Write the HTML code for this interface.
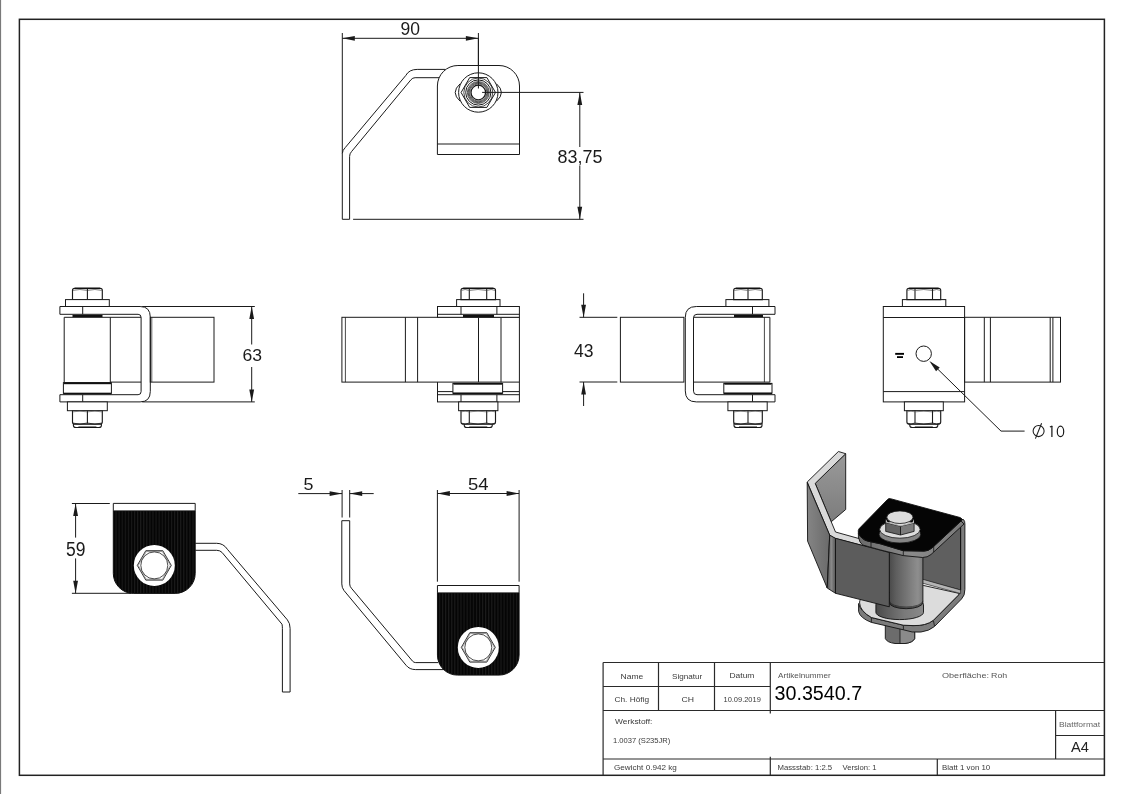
<!DOCTYPE html>
<html><head><meta charset="utf-8"><title>Drawing</title>
<style>html,body{margin:0;padding:0;background:#fff;overflow:hidden}svg{display:block;filter:grayscale(1)}</style>
</head><body>
<svg width="1123" height="794" viewBox="0 0 1123 794" shape-rendering="geometricPrecision">
<defs>
<pattern id="knurl" patternUnits="userSpaceOnUse" width="3.08" height="10" x="0" y="0">
<rect width="3.08" height="10" fill="#050505"/><rect x="1.6" width="1.0" height="10" fill="#1c1c1c"/>
</pattern>
<linearGradient id="cylg" x1="0" x2="1" y1="0" y2="0">
<stop offset="0" stop-color="#4a4a4a"/><stop offset="0.2" stop-color="#5e5e5e"/><stop offset="0.85" stop-color="#8e8e8e"/><stop offset="1" stop-color="#7a7a7a"/>
</linearGradient>
<linearGradient id="ringg" x1="0" x2="1" y1="0" y2="0">
<stop offset="0" stop-color="#4a4a4a"/><stop offset="0.6" stop-color="#7a7a7a"/><stop offset="1" stop-color="#8a8a8a"/>
</linearGradient>
<linearGradient id="leafg" x1="0" x2="0" y1="0" y2="1">
<stop offset="0" stop-color="#9a9a9a"/><stop offset="1" stop-color="#7c7c7c"/>
</linearGradient>
<linearGradient id="slantg" x1="0" x2="1" y1="0" y2="0">
<stop offset="0" stop-color="#858585"/><stop offset="1" stop-color="#6a6a6a"/>
</linearGradient>
<linearGradient id="bendg" x1="0" x2="1" y1="0" y2="0">
<stop offset="0" stop-color="#4e4e4e"/><stop offset="0.5" stop-color="#8a8a8a"/><stop offset="1" stop-color="#555"/>
</linearGradient>
<linearGradient id="bandg" x1="0" x2="1" y1="0" y2="0">
<stop offset="0" stop-color="#6a6a6a"/><stop offset="0.5" stop-color="#8a8a8a"/><stop offset="1" stop-color="#7a7a7a"/>
</linearGradient>
</defs>
<rect width="1123" height="794" fill="#fff"/>
<line x1="0.50" y1="0.00" x2="0.50" y2="794.00" stroke="#7a7a7a" stroke-width="1.2"/>
<rect x="19.40" y="19.30" width="1085.00" height="756.00" rx="0" fill="none" stroke="#222" stroke-width="1.5"/>
<line x1="603.10" y1="662.50" x2="1104.40" y2="662.50" stroke="#2a2a2a" stroke-width="1.2"/>
<line x1="603.10" y1="686.50" x2="770.30" y2="686.50" stroke="#2a2a2a" stroke-width="1.2"/>
<line x1="603.10" y1="710.50" x2="1104.40" y2="710.50" stroke="#2a2a2a" stroke-width="1.2"/>
<line x1="1055.60" y1="735.50" x2="1104.40" y2="735.50" stroke="#2a2a2a" stroke-width="1.2"/>
<line x1="603.10" y1="759.00" x2="1104.40" y2="759.00" stroke="#2a2a2a" stroke-width="1.2"/>
<line x1="603.10" y1="662.50" x2="603.10" y2="775.00" stroke="#2a2a2a" stroke-width="1.2"/>
<line x1="658.50" y1="662.50" x2="658.50" y2="710.50" stroke="#2a2a2a" stroke-width="1.2"/>
<line x1="714.50" y1="662.50" x2="714.50" y2="710.50" stroke="#2a2a2a" stroke-width="1.2"/>
<line x1="770.30" y1="662.50" x2="770.30" y2="713.40" stroke="#2a2a2a" stroke-width="1.2"/>
<line x1="770.30" y1="756.70" x2="770.30" y2="775.00" stroke="#2a2a2a" stroke-width="1.2"/>
<line x1="937.30" y1="759.10" x2="937.30" y2="775.00" stroke="#2a2a2a" stroke-width="1.2"/>
<line x1="1055.60" y1="710.50" x2="1055.60" y2="759.10" stroke="#2a2a2a" stroke-width="1.2"/>
<line x1="342.30" y1="33.00" x2="342.30" y2="153.60" stroke="#1a1a1a" stroke-width="1"/>
<line x1="478.40" y1="33.00" x2="478.40" y2="88.50" stroke="#1a1a1a" stroke-width="1"/>
<line x1="342.30" y1="38.30" x2="478.40" y2="38.30" stroke="#1a1a1a" stroke-width="1"/>
<polygon points="342.30,38.30 354.80,40.70 354.80,35.90" fill="#1a1a1a" stroke="none"/>
<polygon points="478.40,38.30 465.90,35.90 465.90,40.70" fill="#1a1a1a" stroke="none"/>
<path d="M445.5,69.4 L417.2,69.4 Q409,69.4 405.7,75.6 L345.4,147.4 Q342.3,150.5 342.3,153.6 L342.3,219.3 L349.6,219.3 L349.6,156.5 Q349.6,153.5 351.6,151.5 L410.9,79.8 Q412.6,77.7 415.1,77.7 L439.2,77.7" fill="none" stroke="#1a1a1a" stroke-width="1" />
<path d="M437.4,154.5 L437.4,86 A20.5,20.5 0 0 1 457.9,65.5 L499.0,65.5 A20.5,20.5 0 0 1 519.5,86 L519.5,154.5 Z" fill="#fff" stroke="#1a1a1a" stroke-width="1" />
<line x1="437.40" y1="144.00" x2="519.50" y2="144.00" stroke="#1a1a1a" stroke-width="1"/>
<circle cx="478.30" cy="92.50" r="19.70" fill="#fff" stroke="#1a1a1a" stroke-width="1"/>
<path d="M460.1,83.8 Q450.3,92.5 460.1,101.2" fill="none" stroke="#1a1a1a" stroke-width="1" />
<path d="M496.5,83.8 Q506.3,92.5 496.5,101.2" fill="none" stroke="#1a1a1a" stroke-width="1" />
<polygon points="495.50,92.50 486.90,107.40 469.70,107.40 461.10,92.50 469.70,77.60 486.90,77.60" fill="#fff" stroke="#1a1a1a" stroke-width="1" stroke-linejoin="round"/>
<circle cx="478.30" cy="92.50" r="14.50" fill="none" stroke="#1a1a1a" stroke-width="0.8"/>
<circle cx="478.30" cy="92.50" r="12.60" fill="none" stroke="#1a1a1a" stroke-width="1.0"/>
<circle cx="478.30" cy="92.50" r="11.00" fill="none" stroke="#111" stroke-width="0.65"/>
<circle cx="478.30" cy="92.50" r="10.20" fill="none" stroke="#111" stroke-width="0.65"/>
<circle cx="478.30" cy="92.50" r="9.40" fill="none" stroke="#111" stroke-width="0.65"/>
<circle cx="478.30" cy="92.50" r="8.60" fill="none" stroke="#111" stroke-width="0.65"/>
<circle cx="478.30" cy="92.50" r="7.30" fill="#fff" stroke="#1a1a1a" stroke-width="1.3"/>
<line x1="478.40" y1="38.30" x2="478.40" y2="88.50" stroke="#1a1a1a" stroke-width="1"/>
<line x1="482.10" y1="92.40" x2="583.50" y2="92.40" stroke="#1a1a1a" stroke-width="1"/>
<line x1="579.80" y1="92.40" x2="579.80" y2="147.00" stroke="#1a1a1a" stroke-width="1"/>
<line x1="579.80" y1="166.00" x2="579.80" y2="219.30" stroke="#1a1a1a" stroke-width="1"/>
<polygon points="579.80,92.40 577.40,104.90 582.20,104.90" fill="#1a1a1a" stroke="none"/>
<polygon points="579.80,219.30 582.20,206.80 577.40,206.80" fill="#1a1a1a" stroke="none"/>
<line x1="353.10" y1="219.30" x2="583.50" y2="219.30" stroke="#1a1a1a" stroke-width="1"/>
<path d="M72.5,299.6 L72.5,290.3 Q72.5,288.3 74.5,288.3 L100.3,288.3 Q102.3,288.3 102.3,290.3 L102.3,299.6 Z" fill="#fff" stroke="#1a1a1a" stroke-width="1.15" />
<line x1="74.70" y1="288.40" x2="100.10" y2="288.40" stroke="#111" stroke-width="1.5"/>
<line x1="87.40" y1="288.80" x2="87.40" y2="299.60" stroke="#1a1a1a" stroke-width="1.1"/>
<path d="M73.0,290.5 Q79.95,288.5 86.9,290.5" fill="none" stroke="#444" stroke-width="0.6" />
<path d="M87.9,290.5 Q94.85,288.5 101.8,290.5" fill="none" stroke="#444" stroke-width="0.6" />
<rect x="65.50" y="299.60" width="43.80" height="6.90" rx="0" fill="#fff" stroke="#1a1a1a" stroke-width="1"/>
<path d="M59.9,306.5 L140.1,306.5 Q150.3,306.5 150.3,317.3 L150.3,391.4 Q150.3,401.9 140.1,401.9 L59.9,401.9 L59.9,394.7" fill="none" stroke="#1a1a1a" stroke-width="1" />
<path d="M59.9,306.5 L59.9,314.3 L138.1,314.3 Q141.1,314.3 141.1,317.5 L141.1,391.6 Q141.1,394.7 138.1,394.7 L59.9,394.7" fill="none" stroke="#1a1a1a" stroke-width="1" />
<line x1="82.70" y1="306.50" x2="82.70" y2="314.30" stroke="#1a1a1a" stroke-width="1"/>
<line x1="82.70" y1="394.70" x2="82.70" y2="401.90" stroke="#1a1a1a" stroke-width="1"/>
<line x1="142.20" y1="306.50" x2="254.80" y2="306.50" stroke="#1a1a1a" stroke-width="1"/>
<line x1="142.20" y1="401.90" x2="254.80" y2="401.90" stroke="#1a1a1a" stroke-width="1"/>
<line x1="64.20" y1="317.30" x2="141.10" y2="317.30" stroke="#1a1a1a" stroke-width="1"/>
<line x1="64.20" y1="317.30" x2="64.20" y2="382.10" stroke="#1a1a1a" stroke-width="1"/>
<line x1="110.30" y1="317.30" x2="110.30" y2="382.10" stroke="#1a1a1a" stroke-width="1"/>
<line x1="110.30" y1="382.10" x2="141.10" y2="382.10" stroke="#1a1a1a" stroke-width="1"/>
<rect x="72.50" y="314.90" width="30.00" height="2.20" rx="0" fill="#111" stroke="none"/>
<rect x="150.30" y="317.30" width="63.70" height="64.80" rx="0" fill="none" stroke="#1a1a1a" stroke-width="1"/>
<line x1="151.80" y1="317.30" x2="151.80" y2="382.10" stroke="#1a1a1a" stroke-width="0.7"/>
<rect x="63.40" y="382.60" width="48.00" height="10.70" rx="0" fill="#fff" stroke="#1a1a1a" stroke-width="1"/>
<rect x="64.00" y="382.40" width="47.00" height="1.80" rx="0" fill="#111" stroke="none"/>
<rect x="63.40" y="392.85" width="48.00" height="1.50" rx="0" fill="#111" stroke="none"/>
<rect x="67.40" y="401.90" width="39.90" height="8.80" rx="0" fill="#fff" stroke="#1a1a1a" stroke-width="1"/>
<path d="M73.4,423.7 L73.4,425.5 Q73.4,427.5 75.9,427.5 L98.9,427.5 Q101.4,427.5 101.4,425.5 L101.4,423.7 Z" fill="#fff" stroke="#1a1a1a" stroke-width="1.1" />
<line x1="78.40" y1="427.20" x2="96.40" y2="427.20" stroke="#111" stroke-width="1.4"/>
<path d="M72.5,410.7 L72.5,422.2 Q72.5,423.7 74.0,424.09999999999997 L100.8,424.09999999999997 Q102.3,423.7 102.3,422.2 L102.3,410.7 Z" fill="#fff" stroke="#1a1a1a" stroke-width="1.15" />
<line x1="87.40" y1="410.70" x2="87.40" y2="423.70" stroke="#1a1a1a" stroke-width="1.1"/>
<path d="M72.8,423.09999999999997 Q79.95,425.09999999999997 87.10000000000001,423.09999999999997" fill="none" stroke="#222" stroke-width="0.9" />
<path d="M72.8,411.9 Q79.95,410.3 87.10000000000001,411.9" fill="none" stroke="#555" stroke-width="0.6" />
<path d="M87.7,423.09999999999997 Q94.85,425.09999999999997 102.0,423.09999999999997" fill="none" stroke="#222" stroke-width="0.9" />
<path d="M87.7,411.9 Q94.85,410.3 102.0,411.9" fill="none" stroke="#555" stroke-width="0.6" />
<line x1="251.70" y1="306.50" x2="251.70" y2="344.50" stroke="#1a1a1a" stroke-width="1"/>
<line x1="251.70" y1="367.00" x2="251.70" y2="401.90" stroke="#1a1a1a" stroke-width="1"/>
<polygon points="251.70,306.50 249.30,319.00 254.10,319.00" fill="#1a1a1a" stroke="none"/>
<polygon points="251.70,401.90 254.10,389.40 249.30,389.40" fill="#1a1a1a" stroke="none"/>
<rect x="341.90" y="317.30" width="177.50" height="64.80" rx="0" fill="none" stroke="#1a1a1a" stroke-width="1"/>
<line x1="345.40" y1="317.30" x2="345.40" y2="382.10" stroke="#1a1a1a" stroke-width="0.8"/>
<line x1="405.40" y1="317.30" x2="405.40" y2="382.10" stroke="#1a1a1a" stroke-width="1"/>
<line x1="417.60" y1="317.30" x2="417.60" y2="382.10" stroke="#1a1a1a" stroke-width="1"/>
<line x1="478.50" y1="317.30" x2="478.50" y2="382.10" stroke="#1a1a1a" stroke-width="1"/>
<line x1="501.00" y1="317.30" x2="501.00" y2="382.10" stroke="#1a1a1a" stroke-width="1"/>
<rect x="437.50" y="306.50" width="81.90" height="10.80" rx="0" fill="#fff" stroke="#1a1a1a" stroke-width="1"/>
<line x1="437.50" y1="314.30" x2="519.40" y2="314.30" stroke="#1a1a1a" stroke-width="1"/>
<line x1="461.00" y1="306.50" x2="461.00" y2="314.30" stroke="#1a1a1a" stroke-width="1"/>
<line x1="496.90" y1="306.50" x2="496.90" y2="314.30" stroke="#1a1a1a" stroke-width="1"/>
<rect x="463.00" y="314.90" width="31.00" height="2.20" rx="0" fill="#111" stroke="none"/>
<rect x="456.60" y="299.60" width="43.40" height="6.90" rx="0" fill="#fff" stroke="#1a1a1a" stroke-width="1"/>
<path d="M461.0,299.6 L461.0,290.3 Q461.0,288.3 463.0,288.3 L493.5,288.3 Q495.5,288.3 495.5,290.3 L495.5,299.6 Z" fill="#fff" stroke="#1a1a1a" stroke-width="1.15" />
<line x1="463.20" y1="288.40" x2="493.30" y2="288.40" stroke="#111" stroke-width="1.5"/>
<line x1="469.30" y1="288.80" x2="469.30" y2="299.60" stroke="#1a1a1a" stroke-width="1.1"/>
<line x1="486.70" y1="288.80" x2="486.70" y2="299.60" stroke="#1a1a1a" stroke-width="1.1"/>
<path d="M461.5,290.5 Q465.15,288.5 468.8,290.5" fill="none" stroke="#444" stroke-width="0.6" />
<path d="M469.8,290.5 Q478.0,288.5 486.2,290.5" fill="none" stroke="#444" stroke-width="0.6" />
<path d="M487.2,290.5 Q491.1,288.5 495.0,290.5" fill="none" stroke="#444" stroke-width="0.6" />
<rect x="437.50" y="391.60" width="81.90" height="10.30" rx="0" fill="#fff" stroke="#1a1a1a" stroke-width="1"/>
<line x1="437.50" y1="394.70" x2="519.40" y2="394.70" stroke="#1a1a1a" stroke-width="1"/>
<line x1="437.50" y1="382.10" x2="437.50" y2="391.60" stroke="#1a1a1a" stroke-width="1"/>
<line x1="519.40" y1="382.10" x2="519.40" y2="391.60" stroke="#1a1a1a" stroke-width="1"/>
<line x1="461.00" y1="394.70" x2="461.00" y2="401.90" stroke="#1a1a1a" stroke-width="1"/>
<line x1="496.90" y1="394.70" x2="496.90" y2="401.90" stroke="#1a1a1a" stroke-width="1"/>
<rect x="452.90" y="383.40" width="49.70" height="9.80" rx="0" fill="#fff" stroke="#1a1a1a" stroke-width="1"/>
<rect x="453.50" y="382.90" width="48.50" height="1.80" rx="0" fill="#111" stroke="none"/>
<rect x="452.90" y="392.65" width="49.70" height="1.50" rx="0" fill="#111" stroke="none"/>
<rect x="458.60" y="401.90" width="39.30" height="8.80" rx="0" fill="#fff" stroke="#1a1a1a" stroke-width="1"/>
<path d="M464.25,423.7 L464.25,425.5 Q464.25,427.5 466.75,427.5 L489.75,427.5 Q492.25,427.5 492.25,425.5 L492.25,423.7 Z" fill="#fff" stroke="#1a1a1a" stroke-width="1.1" />
<line x1="469.25" y1="427.20" x2="487.25" y2="427.20" stroke="#111" stroke-width="1.4"/>
<path d="M461.0,410.7 L461.0,422.2 Q461.0,423.7 462.5,424.09999999999997 L494.0,424.09999999999997 Q495.5,423.7 495.5,422.2 L495.5,410.7 Z" fill="#fff" stroke="#1a1a1a" stroke-width="1.15" />
<line x1="469.30" y1="410.70" x2="469.30" y2="423.70" stroke="#1a1a1a" stroke-width="1.1"/>
<line x1="486.70" y1="410.70" x2="486.70" y2="423.70" stroke="#1a1a1a" stroke-width="1.1"/>
<path d="M461.3,423.09999999999997 Q465.15,425.09999999999997 469.0,423.09999999999997" fill="none" stroke="#222" stroke-width="0.9" />
<path d="M461.3,411.9 Q465.15,410.3 469.0,411.9" fill="none" stroke="#555" stroke-width="0.6" />
<path d="M469.6,423.09999999999997 Q478.0,425.09999999999997 486.4,423.09999999999997" fill="none" stroke="#222" stroke-width="0.9" />
<path d="M469.6,411.9 Q478.0,410.3 486.4,411.9" fill="none" stroke="#555" stroke-width="0.6" />
<path d="M487.0,423.09999999999997 Q491.1,425.09999999999997 495.2,423.09999999999997" fill="none" stroke="#222" stroke-width="0.9" />
<path d="M487.0,411.9 Q491.1,410.3 495.2,411.9" fill="none" stroke="#555" stroke-width="0.6" />
<line x1="579.50" y1="317.30" x2="617.30" y2="317.30" stroke="#1a1a1a" stroke-width="1"/>
<line x1="579.50" y1="382.00" x2="617.30" y2="382.00" stroke="#1a1a1a" stroke-width="1"/>
<line x1="583.60" y1="293.30" x2="583.60" y2="317.30" stroke="#1a1a1a" stroke-width="1"/>
<line x1="583.60" y1="382.00" x2="583.60" y2="406.00" stroke="#1a1a1a" stroke-width="1"/>
<polygon points="583.60,317.30 586.00,304.80 581.20,304.80" fill="#1a1a1a" stroke="none"/>
<polygon points="583.60,382.00 581.20,394.50 586.00,394.50" fill="#1a1a1a" stroke="none"/>
<rect x="620.40" y="317.30" width="63.50" height="64.80" rx="0" fill="none" stroke="#1a1a1a" stroke-width="1"/>
<path d="M775.0,306.5 L696.3,306.5 Q685.3,306.5 685.3,317.3 L685.3,390.9 Q685.3,401.9 696.3,401.9 L775.0,401.9 L775.0,394.7" fill="none" stroke="#1a1a1a" stroke-width="1" />
<path d="M775.0,306.5 L775.0,314.3 L697.0,314.3 Q693.5,314.3 693.5,317.8 L693.5,391.2 Q693.5,394.7 697.0,394.7 L775.0,394.7" fill="none" stroke="#1a1a1a" stroke-width="1" />
<line x1="752.50" y1="306.50" x2="752.50" y2="314.30" stroke="#1a1a1a" stroke-width="1"/>
<line x1="752.50" y1="394.70" x2="752.50" y2="401.90" stroke="#1a1a1a" stroke-width="1"/>
<line x1="693.50" y1="317.30" x2="769.90" y2="317.30" stroke="#1a1a1a" stroke-width="1"/>
<line x1="693.50" y1="382.10" x2="769.90" y2="382.10" stroke="#1a1a1a" stroke-width="1"/>
<line x1="764.40" y1="317.30" x2="764.40" y2="382.10" stroke="#1a1a1a" stroke-width="0.8"/>
<line x1="769.90" y1="317.30" x2="769.90" y2="382.10" stroke="#1a1a1a" stroke-width="1"/>
<rect x="734.00" y="314.90" width="29.00" height="2.20" rx="0" fill="#111" stroke="none"/>
<rect x="725.90" y="299.60" width="43.00" height="6.90" rx="0" fill="#fff" stroke="#1a1a1a" stroke-width="1"/>
<path d="M733.7,299.6 L733.7,290.3 Q733.7,288.3 735.7,288.3 L760.3,288.3 Q762.3,288.3 762.3,290.3 L762.3,299.6 Z" fill="#fff" stroke="#1a1a1a" stroke-width="1.15" />
<line x1="735.90" y1="288.40" x2="760.10" y2="288.40" stroke="#111" stroke-width="1.5"/>
<line x1="748.00" y1="288.80" x2="748.00" y2="299.60" stroke="#1a1a1a" stroke-width="1.1"/>
<path d="M734.2,290.5 Q740.85,288.5 747.5,290.5" fill="none" stroke="#444" stroke-width="0.6" />
<path d="M748.5,290.5 Q755.15,288.5 761.8,290.5" fill="none" stroke="#444" stroke-width="0.6" />
<rect x="723.80" y="383.40" width="48.20" height="9.80" rx="0" fill="#fff" stroke="#1a1a1a" stroke-width="1"/>
<rect x="724.40" y="382.90" width="47.00" height="1.80" rx="0" fill="#111" stroke="none"/>
<rect x="723.80" y="392.65" width="48.20" height="1.50" rx="0" fill="#111" stroke="none"/>
<rect x="727.90" y="401.90" width="39.30" height="8.80" rx="0" fill="#fff" stroke="#1a1a1a" stroke-width="1"/>
<path d="M734.0,423.7 L734.0,425.5 Q734.0,427.5 736.5,427.5 L759.5,427.5 Q762.0,427.5 762.0,425.5 L762.0,423.7 Z" fill="#fff" stroke="#1a1a1a" stroke-width="1.1" />
<line x1="739.00" y1="427.20" x2="757.00" y2="427.20" stroke="#111" stroke-width="1.4"/>
<path d="M733.7,410.7 L733.7,422.2 Q733.7,423.7 735.2,424.09999999999997 L760.8,424.09999999999997 Q762.3,423.7 762.3,422.2 L762.3,410.7 Z" fill="#fff" stroke="#1a1a1a" stroke-width="1.15" />
<line x1="748.00" y1="410.70" x2="748.00" y2="423.70" stroke="#1a1a1a" stroke-width="1.1"/>
<path d="M734.0,423.09999999999997 Q740.85,425.09999999999997 747.7,423.09999999999997" fill="none" stroke="#222" stroke-width="0.9" />
<path d="M734.0,411.9 Q740.85,410.3 747.7,411.9" fill="none" stroke="#555" stroke-width="0.6" />
<path d="M748.3,423.09999999999997 Q755.15,425.09999999999997 762.0,423.09999999999997" fill="none" stroke="#222" stroke-width="0.9" />
<path d="M748.3,411.9 Q755.15,410.3 762.0,411.9" fill="none" stroke="#555" stroke-width="0.6" />
<rect x="883.30" y="306.50" width="81.30" height="95.40" rx="0" fill="#fff" stroke="#1a1a1a" stroke-width="1"/>
<line x1="883.30" y1="317.50" x2="964.60" y2="317.50" stroke="#1a1a1a" stroke-width="1"/>
<line x1="883.30" y1="391.60" x2="964.60" y2="391.60" stroke="#1a1a1a" stroke-width="1"/>
<rect x="902.40" y="299.60" width="43.40" height="6.90" rx="0" fill="#fff" stroke="#1a1a1a" stroke-width="1"/>
<path d="M906.9,299.6 L906.9,290.3 Q906.9,288.3 908.9,288.3 L938.7,288.3 Q940.7,288.3 940.7,290.3 L940.7,299.6 Z" fill="#fff" stroke="#1a1a1a" stroke-width="1.15" />
<line x1="909.10" y1="288.40" x2="938.50" y2="288.40" stroke="#111" stroke-width="1.5"/>
<line x1="915.00" y1="288.80" x2="915.00" y2="299.60" stroke="#1a1a1a" stroke-width="1.1"/>
<line x1="932.50" y1="288.80" x2="932.50" y2="299.60" stroke="#1a1a1a" stroke-width="1.1"/>
<path d="M907.4,290.5 Q910.95,288.5 914.5,290.5" fill="none" stroke="#444" stroke-width="0.6" />
<path d="M915.5,290.5 Q923.75,288.5 932.0,290.5" fill="none" stroke="#444" stroke-width="0.6" />
<path d="M933.0,290.5 Q936.6,288.5 940.2,290.5" fill="none" stroke="#444" stroke-width="0.6" />
<rect x="904.40" y="401.90" width="38.90" height="8.80" rx="0" fill="#fff" stroke="#1a1a1a" stroke-width="1"/>
<path d="M909.8,423.7 L909.8,425.5 Q909.8,427.5 912.3,427.5 L935.3,427.5 Q937.8,427.5 937.8,425.5 L937.8,423.7 Z" fill="#fff" stroke="#1a1a1a" stroke-width="1.1" />
<line x1="914.80" y1="427.20" x2="932.80" y2="427.20" stroke="#111" stroke-width="1.4"/>
<path d="M906.9,410.7 L906.9,422.2 Q906.9,423.7 908.4,424.09999999999997 L939.2,424.09999999999997 Q940.7,423.7 940.7,422.2 L940.7,410.7 Z" fill="#fff" stroke="#1a1a1a" stroke-width="1.15" />
<line x1="915.00" y1="410.70" x2="915.00" y2="423.70" stroke="#1a1a1a" stroke-width="1.1"/>
<line x1="932.50" y1="410.70" x2="932.50" y2="423.70" stroke="#1a1a1a" stroke-width="1.1"/>
<path d="M907.1999999999999,423.09999999999997 Q910.95,425.09999999999997 914.7,423.09999999999997" fill="none" stroke="#222" stroke-width="0.9" />
<path d="M907.1999999999999,411.9 Q910.95,410.3 914.7,411.9" fill="none" stroke="#555" stroke-width="0.6" />
<path d="M915.3,423.09999999999997 Q923.75,425.09999999999997 932.2,423.09999999999997" fill="none" stroke="#222" stroke-width="0.9" />
<path d="M915.3,411.9 Q923.75,410.3 932.2,411.9" fill="none" stroke="#555" stroke-width="0.6" />
<path d="M932.8,423.09999999999997 Q936.6,425.09999999999997 940.4000000000001,423.09999999999997" fill="none" stroke="#222" stroke-width="0.9" />
<path d="M932.8,411.9 Q936.6,410.3 940.4000000000001,411.9" fill="none" stroke="#555" stroke-width="0.6" />
<rect x="964.60" y="317.30" width="95.90" height="64.80" rx="0" fill="none" stroke="#1a1a1a" stroke-width="1"/>
<line x1="984.30" y1="317.30" x2="984.30" y2="382.10" stroke="#1a1a1a" stroke-width="1"/>
<line x1="990.40" y1="317.30" x2="990.40" y2="382.10" stroke="#1a1a1a" stroke-width="1"/>
<line x1="1050.20" y1="317.30" x2="1050.20" y2="382.10" stroke="#1a1a1a" stroke-width="1"/>
<line x1="1052.90" y1="317.30" x2="1052.90" y2="382.10" stroke="#1a1a1a" stroke-width="1"/>
<circle cx="923.70" cy="353.70" r="7.70" fill="none" stroke="#1a1a1a" stroke-width="1"/>
<line x1="895.20" y1="353.85" x2="904.00" y2="353.85" stroke="#000" stroke-width="1.9"/>
<line x1="897.00" y1="357.10" x2="903.00" y2="357.10" stroke="#000" stroke-width="1.8"/>
<line x1="931.50" y1="363.00" x2="1001.00" y2="431.10" stroke="#1a1a1a" stroke-width="1"/>
<line x1="1001.00" y1="431.10" x2="1024.60" y2="431.10" stroke="#1a1a1a" stroke-width="1"/>
<polygon points="929.40,360.90 936.05,371.22 939.72,367.55" fill="#1a1a1a" stroke="none"/>
<path d="M113.3,510.9 L113.3,503.4 L195.2,503.4 L195.2,510.9" fill="#fff" stroke="#1a1a1a" stroke-width="1" />
<path d="M113.3,510.9 L195.2,510.9 L195.2,573.4 A20.0,20.0 0 0 1 175.2,593.4 L133.3,593.4 A20.0,20.0 0 0 1 113.3,573.4 Z" fill="url(#knurl)" stroke="#111" stroke-width="1" />
<circle cx="154.30" cy="565.40" r="20.50" fill="#fff" stroke="none"/>
<polygon points="171.30,565.40 162.80,580.12 145.80,580.12 137.30,565.40 145.80,550.68 162.80,550.68" fill="#fff" stroke="#222" stroke-width="0.9" stroke-linejoin="round"/>
<polygon points="170.30,565.40 162.30,579.26 146.30,579.26 138.30,565.40 146.30,551.54 162.30,551.54" fill="none" stroke="#555" stroke-width="0.5" stroke-linejoin="round"/>
<circle cx="154.30" cy="565.40" r="13.50" fill="none" stroke="#222" stroke-width="0.8"/>
<path d="M195.2,543.3 L216.7,543.3 Q223.5,543.3 227.4,549.3 L287.4,619.9 Q290.1,623.2 290.1,628.4 L290.1,692.0 L282.4,692.0 L282.4,628.4 Q282.4,626.0 282.0,624.2 L222.1,552.5 Q220.0,550.3 216.7,550.3 L195.2,550.3" fill="none" stroke="#1a1a1a" stroke-width="1" />
<line x1="71.90" y1="503.50" x2="109.80" y2="503.50" stroke="#1a1a1a" stroke-width="1"/>
<line x1="71.90" y1="593.30" x2="131.00" y2="593.30" stroke="#1a1a1a" stroke-width="1"/>
<line x1="75.60" y1="503.50" x2="75.60" y2="537.60" stroke="#1a1a1a" stroke-width="1"/>
<line x1="75.60" y1="558.40" x2="75.60" y2="593.30" stroke="#1a1a1a" stroke-width="1"/>
<polygon points="75.60,503.50 73.20,516.00 78.00,516.00" fill="#1a1a1a" stroke="none"/>
<polygon points="75.60,593.30 78.00,580.80 73.20,580.80" fill="#1a1a1a" stroke="none"/>
<line x1="437.40" y1="490.00" x2="437.40" y2="581.70" stroke="#1a1a1a" stroke-width="1"/>
<line x1="519.10" y1="490.00" x2="519.10" y2="581.70" stroke="#1a1a1a" stroke-width="1"/>
<line x1="437.40" y1="493.50" x2="519.10" y2="493.50" stroke="#1a1a1a" stroke-width="1"/>
<polygon points="437.40,493.50 449.90,495.90 449.90,491.10" fill="#1a1a1a" stroke="none"/>
<polygon points="519.10,493.50 506.60,491.10 506.60,495.90" fill="#1a1a1a" stroke="none"/>
<line x1="342.10" y1="490.00" x2="342.10" y2="517.50" stroke="#1a1a1a" stroke-width="1"/>
<line x1="349.70" y1="490.00" x2="349.70" y2="517.50" stroke="#1a1a1a" stroke-width="1"/>
<line x1="298.30" y1="493.60" x2="342.10" y2="493.60" stroke="#1a1a1a" stroke-width="1"/>
<line x1="349.70" y1="493.60" x2="373.70" y2="493.60" stroke="#1a1a1a" stroke-width="1"/>
<polygon points="342.10,493.60 329.60,491.20 329.60,496.00" fill="#1a1a1a" stroke="none"/>
<polygon points="349.70,493.60 362.20,496.00 362.20,491.20" fill="#1a1a1a" stroke="none"/>
<path d="M445.0,669.6 L415.7,669.6 Q409.5,669.6 406.1,665.3 L343.9,590.4 Q341.8,587.5 341.8,583.9 L341.8,520.7 L349.7,520.7 L349.7,583.9 Q349.7,586.5 351.4,588.2 L412.5,661.1 Q413.8,662.6 415.7,662.6 L438,662.6" fill="none" stroke="#1a1a1a" stroke-width="1" />
<path d="M437.45,592.9 L437.45,585.5 L519.1,585.5 L519.1,592.9" fill="#fff" stroke="#1a1a1a" stroke-width="1" />
<path d="M437.45,592.9 L519.1,592.9 L519.1,655.1 A20.0,20.0 0 0 1 499.1,675.1 L457.45,675.1 A20.0,20.0 0 0 1 437.45,655.1 Z" fill="url(#knurl)" stroke="#111" stroke-width="1" />
<circle cx="478.30" cy="647.40" r="20.50" fill="#fff" stroke="none"/>
<polygon points="495.30,647.40 486.80,662.12 469.80,662.12 461.30,647.40 469.80,632.68 486.80,632.68" fill="#fff" stroke="#222" stroke-width="0.9" stroke-linejoin="round"/>
<polygon points="494.30,647.40 486.30,661.26 470.30,661.26 462.30,647.40 470.30,633.54 486.30,633.54" fill="none" stroke="#555" stroke-width="0.5" stroke-linejoin="round"/>
<circle cx="478.30" cy="647.40" r="13.50" fill="none" stroke="#222" stroke-width="0.8"/>
<polygon points="933.00,549.50 960.60,524.00 960.60,590.00 921.50,579.80 921.50,552.00" fill="#5f5f5f" stroke="#111" stroke-width="0.9" stroke-linejoin="round"/>
<path d="M885.3,622 L900,626 L914.7,622 L914.7,638.5 Q913,642.5 905,643.5 L895,643.5 Q887,642.5 885.3,638.5 Z" fill="#6c6c6c" stroke="#111" stroke-width="0.9" />
<path d="M900,626 L914.7,622 L914.7,638.5 Q913,642.5 905,643.5 L900,643.5 Z" fill="#8a8a8a" stroke="#111" stroke-width="0.8" />
<path d="M960.6,521.5 Q962,518.5 963.5,519.5 Q965,521 964.9,524 L964.9,589.5 Q965,595.5 961.5,599 L934.5,626.5 Q929,631 921,632 Q912,633 903.4,629.8 L871.4,622.4 Q860,618 858.6,611.5 L858.6,603.5 Q860,611 871.4,617.5 L903.4,625.2 L913,625.6 Q926,626 933.4,620.3 L957.9,595.6 Q960.6,593 960.6,589.5 Z" fill="#7c7c7c" stroke="#111" stroke-width="0.9" />
<line x1="871.40" y1="617.50" x2="871.40" y2="622.40" stroke="#111" stroke-width="0.8"/>
<line x1="903.40" y1="625.20" x2="903.40" y2="629.80" stroke="#111" stroke-width="0.8"/>
<line x1="933.40" y1="620.60" x2="934.50" y2="626.00" stroke="#111" stroke-width="0.8"/>
<line x1="960.60" y1="524.00" x2="960.60" y2="590.00" stroke="#111" stroke-width="0.8"/>
<path d="M859.6,603 Q859,598 866,597.5 L923.7,585.5 L959.5,593.5 L957.9,595.6 L933.4,620.3 Q926,626 913,625.6 L903.4,625.2 L871.4,617.5 Q860,611 859.6,603 Z" fill="#dcdcdc" stroke="#111" stroke-width="0.9" />
<polygon points="921.50,578.90 960.60,590.00 960.60,593.50 921.50,582.90" fill="#b5b5b5" stroke="#111" stroke-width="0.6" stroke-linejoin="round"/>
<path d="M875.9,604.5 L875.9,612.3 A23.8,7.3 0 0 0 923.5,612.3 L923.5,604.5 A23.8,7 0 0 0 875.9,604.5 Z" fill="url(#ringg)" stroke="#111" stroke-width="0.9" />
<path d="M889.3,548 L922.9,548 L922.9,602.5 A16.8,6.2 0 0 1 889.3,602.5 Z" fill="url(#cylg)" stroke="#111" stroke-width="0.9" />
<path d="M889.3,600.8 A16.8,6.2 0 0 0 922.9,600.8" fill="none" stroke="#222" stroke-width="0.6" />
<path d="M889.3,601.8 A16.8,6.2 0 0 0 922.9,601.8" fill="none" stroke="#222" stroke-width="0.6" />
<polygon points="815.20,483.40 845.70,453.70 845.70,509.50 831.20,521.80" fill="url(#leafg)" stroke="#111" stroke-width="0.9" stroke-linejoin="round"/>
<polygon points="807.20,482.00 838.40,451.50 845.70,453.70 815.20,483.40 835.50,532.00 866.00,540.50 866.00,546.50 834.80,538.30 829.70,535.20" fill="#dadada" stroke="#111" stroke-width="0.9" stroke-linejoin="round"/>
<polygon points="807.20,482.50 829.70,535.20 827.20,588.00 807.60,541.10" fill="url(#slantg)" stroke="#111" stroke-width="0.9" stroke-linejoin="round"/>
<polygon points="829.70,535.20 835.50,538.30 835.50,593.30 827.20,588.00" fill="url(#bendg)" stroke="#111" stroke-width="0.9" stroke-linejoin="round"/>
<polygon points="835.50,538.30 889.30,552.50 889.30,606.80 835.50,593.30" fill="#5c5c5c" stroke="#111" stroke-width="0.9" stroke-linejoin="round"/>
<path d="M858.4,533.5 L858.4,537 Q859.5,543 862.7,545 L880,549.8 L903.3,555.6 L922.5,557.5 Q927.5,557.5 931,554.5 L964,524 L961,521 L932.1,547.9 Q928,551.2 924.1,551.1 L903.3,550.7 L880,543.7 L868,541.2 Q861.5,539.5 858.4,533.5 Z" fill="url(#bandg)" stroke="#111" stroke-width="0.9" />
<line x1="871.00" y1="541.80" x2="871.00" y2="547.40" stroke="#111" stroke-width="0.8"/>
<line x1="903.30" y1="550.70" x2="903.30" y2="555.60" stroke="#111" stroke-width="0.8"/>
<line x1="933.70" y1="545.50" x2="933.70" y2="552.00" stroke="#111" stroke-width="0.8"/>
<path d="M858.4,533.5 Q857.8,530 859.2,528.6 L887.5,499.5 Q888.8,498.2 890.5,498.7 L960,517.5 Q963.5,518.8 961,521 L932.1,547.9 Q928,551.2 924.1,551.1 L903.3,550.7 L880,543.7 L868,541.2 Q861.5,539.5 858.4,533.5 Z" fill="#050505" stroke="#111" stroke-width="0.9" />
<ellipse cx="899.9" cy="534.2" rx="20.8" ry="8.8" fill="#858585" stroke="#111" stroke-width="0.8"/>
<ellipse cx="899.9" cy="529.4" rx="20.3" ry="8.8" fill="#dcdcdc" stroke="#111" stroke-width="0.8"/>
<polygon points="885.70,522.60 900.50,526.20 900.50,535.00 885.70,531.40" fill="#636363" stroke="#111" stroke-width="0.8" stroke-linejoin="round"/>
<polygon points="900.50,526.20 914.10,523.00 914.10,531.40 900.50,535.00" fill="#7c7c7c" stroke="#111" stroke-width="0.8" stroke-linejoin="round"/>
<ellipse cx="899.9" cy="517.2" rx="13.1" ry="6.3" fill="#dcdcdc" stroke="#111" stroke-width="0.8"/>
<polygon points="885.90,519.00 887.50,522.00 900.50,525.40 912.50,522.20 913.90,519.00 914.10,523.00 900.50,526.20 885.70,522.60" fill="#bdbdbd" stroke="none"/>
<ellipse cx="1038.6" cy="431.0" rx="5.5" ry="5.6" fill="none" stroke="#1a1a1a" stroke-width="1.05"/>
<line x1="1035.40" y1="438.60" x2="1041.60" y2="423.20" stroke="#1a1a1a" stroke-width="1.05"/>
<line x1="1051.90" y1="426.00" x2="1051.90" y2="436.90" stroke="#1a1a1a" stroke-width="1.25"/>
<path d="M1049.9,427.0 L1052.3,426.0" fill="none" stroke="#1a1a1a" stroke-width="1.2" />
<ellipse cx="1060.5" cy="431.4" rx="3.2" ry="5.2" fill="none" stroke="#1a1a1a" stroke-width="1.2"/>
<text x="620.50" y="678.90" font-family="Liberation Sans" font-size="8.0" text-anchor="start" fill="#3a3a3a" textLength="22.7" lengthAdjust="spacingAndGlyphs">Name</text>
<text x="672.00" y="678.90" font-family="Liberation Sans" font-size="8.0" text-anchor="start" fill="#3a3a3a" textLength="30.255" lengthAdjust="spacingAndGlyphs">Signatur</text>
<text x="729.50" y="678.30" font-family="Liberation Sans" font-size="8.0" text-anchor="start" fill="#3a3a3a" textLength="24.9" lengthAdjust="spacingAndGlyphs">Datum</text>
<text x="778.00" y="677.90" font-family="Liberation Sans" font-size="7.5" text-anchor="start" fill="#555" textLength="52.659" lengthAdjust="spacingAndGlyphs">Artikelnummer</text>
<text x="614.50" y="702.10" font-family="Liberation Sans" font-size="8.0" text-anchor="start" fill="#3a3a3a" textLength="34.605" lengthAdjust="spacingAndGlyphs">Ch. Höfig</text>
<text x="681.50" y="702.10" font-family="Liberation Sans" font-size="8.0" text-anchor="start" fill="#3a3a3a" textLength="12.485" lengthAdjust="spacingAndGlyphs">CH</text>
<text x="723.50" y="702.10" font-family="Liberation Sans" font-size="8.0" text-anchor="start" fill="#3a3a3a" textLength="37.294" lengthAdjust="spacingAndGlyphs">10.09.2019</text>
<text x="774.50" y="699.70" font-family="Liberation Sans" font-size="19.87" text-anchor="start" fill="#000" textLength="87.644" lengthAdjust="spacingAndGlyphs">30.3540.7</text>
<text x="615.00" y="723.90" font-family="Liberation Sans" font-size="8.0" text-anchor="start" fill="#3a3a3a" textLength="37.402" lengthAdjust="spacingAndGlyphs">Werkstoff:</text>
<text x="613.00" y="742.80" font-family="Liberation Sans" font-size="8.0" text-anchor="start" fill="#3a3a3a" textLength="57.323" lengthAdjust="spacingAndGlyphs">1.0037 (S235JR)</text>
<text x="614.00" y="769.80" font-family="Liberation Sans" font-size="8.0" text-anchor="start" fill="#3a3a3a" textLength="62.818" lengthAdjust="spacingAndGlyphs">Gewicht 0.942 kg</text>
<text x="777.50" y="769.90" font-family="Liberation Sans" font-size="8.0" text-anchor="start" fill="#3a3a3a" textLength="54.655" lengthAdjust="spacingAndGlyphs">Massstab: 1:2.5</text>
<text x="842.50" y="769.90" font-family="Liberation Sans" font-size="8.0" text-anchor="start" fill="#3a3a3a" textLength="34.073" lengthAdjust="spacingAndGlyphs">Version: 1</text>
<text x="942.00" y="769.90" font-family="Liberation Sans" font-size="8.0" text-anchor="start" fill="#3a3a3a" textLength="48.233" lengthAdjust="spacingAndGlyphs">Blatt 1 von 10</text>
<text x="942.00" y="678.20" font-family="Liberation Sans" font-size="8.0" text-anchor="start" fill="#555" textLength="46.983" lengthAdjust="spacingAndGlyphs">Oberfläche:</text>
<text x="991.00" y="678.20" font-family="Liberation Sans" font-size="8.0" text-anchor="start" fill="#555" textLength="16.231" lengthAdjust="spacingAndGlyphs">Roh</text>
<text x="1059.00" y="726.80" font-family="Liberation Sans" font-size="8.0" text-anchor="start" fill="#666" textLength="41.103" lengthAdjust="spacingAndGlyphs">Blattformat</text>
<text x="1071.00" y="751.70" font-family="Liberation Sans" font-size="14.757" text-anchor="start" fill="#222" textLength="17.928" lengthAdjust="spacingAndGlyphs">A4</text>
<text x="400.50" y="34.80" font-family="Liberation Sans" font-size="18.053" text-anchor="start" fill="#1a1a1a" textLength="19.474" lengthAdjust="spacingAndGlyphs">90</text>
<text x="557.50" y="163.10" font-family="Liberation Sans" font-size="18.374" text-anchor="start" fill="#1a1a1a" textLength="44.859" lengthAdjust="spacingAndGlyphs">83,75</text>
<text x="242.50" y="361.30" font-family="Liberation Sans" font-size="17.272" text-anchor="start" fill="#1a1a1a" textLength="19.546" lengthAdjust="spacingAndGlyphs">63</text>
<text x="574.00" y="356.70" font-family="Liberation Sans" font-size="17.5" text-anchor="start" fill="#1a1a1a" textLength="19.474" lengthAdjust="spacingAndGlyphs">43</text>
<text x="66.00" y="555.60" font-family="Liberation Sans" font-size="19.529" text-anchor="start" fill="#1a1a1a" textLength="19.478" lengthAdjust="spacingAndGlyphs">59</text>
<text x="468.00" y="490.10" font-family="Liberation Sans" font-size="17.005" text-anchor="start" fill="#1a1a1a" textLength="20.544" lengthAdjust="spacingAndGlyphs">54</text>
<text x="303.50" y="490.30" font-family="Liberation Sans" font-size="17.011" text-anchor="start" fill="#1a1a1a" textLength="9.957" lengthAdjust="spacingAndGlyphs">5</text>
</svg>
</body></html>
